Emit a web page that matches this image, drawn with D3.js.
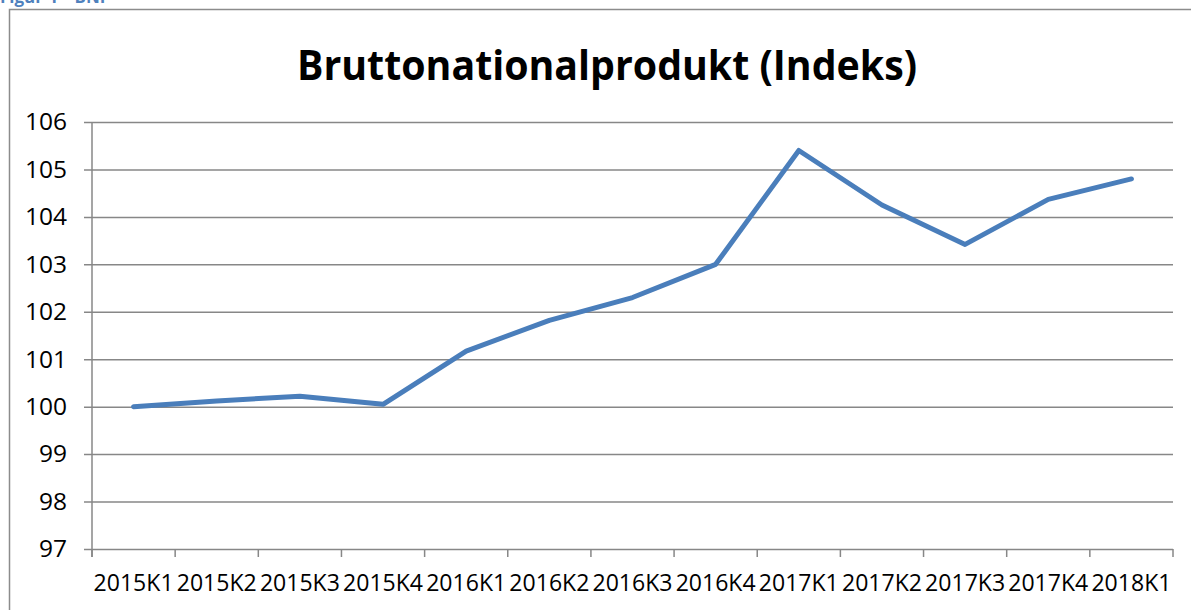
<!DOCTYPE html>
<html>
<head>
<meta charset="utf-8">
<script src="https://cdnjs.cloudflare.com/ajax/libs/d3/7.8.5/d3.min.js"></script>
<style>
  body { margin: 0; background: #fff; }
  svg { display: block; }
</style>
</head>
<body>
<div id="chart"></div>
<script>
let w = 1191,
    h = 610;

let margin = { top: 122, bottom: 61, left: 92, right: 18 };
let width = w - margin.left - margin.right;

let quarters = ["2015K1", "2015K2", "2015K3", "2015K4", "2016K1", "2016K2", "2016K3",
                "2016K4", "2017K1", "2017K2", "2017K3", "2017K4", "2018K1"];
let bnp = [100.0, 100.12, 100.22, 100.05, 101.17, 101.82, 102.3,
           103.0, 105.4, 104.25, 103.42, 104.37, 104.8];
let yTicks = [97, 98, 99, 100, 101, 102, 103, 104, 105, 106];

let svg = d3.select("#chart")
            .append("svg")
            .attr("width", w)
            .attr("height", h);

// caption above the chart, cut by the page edge
svg.append("text")
   .attr("x", 0)
   .attr("y", 3)
   .style("font-family", "Open Sans")
   .style("font-weight", "bold")
   .style("font-size", "17px")
   .style("fill", "#4f81bd")
   .text("Figur 4 – BNP");

// chart frame
svg.append("rect")
   .attr("x", 9.5)
   .attr("y", 9.5)
   .attr("width", w + 20)
   .attr("height", h + 20)
   .style("fill", "none")
   .style("stroke", "#8c8c8c")
   .style("stroke-width", 1.5);

let x = d3.scaleBand()
          .domain(quarters)
          .range([margin.left, w - margin.right]);

let y = d3.scaleLinear()
          .domain([97, 106])
          .range([h - margin.bottom, margin.top]);

// gridlines + y axis
let yAxis = d3.axisLeft(y)
              .tickValues(yTicks)
              .tickSizeOuter(0)
              .tickPadding(19)
              .tickFormat(d3.format("d"));

let gy = svg.append("g")
            .attr("transform", "translate(" + margin.left + ",0)")
            .call(yAxis);

gy.select(".domain").remove();
gy.selectAll(".tick line")
  .attr("x1", -8)
  .attr("x2", width)
  .style("stroke", "#878787")
  .style("stroke-width", 1.5);
gy.selectAll(".tick text")
  .style("font-family", "Open Sans")
  .style("font-size", "24.5px")
  .style("fill", "#000");

// vertical axis line
svg.append("line")
   .attr("x1", margin.left)
   .attr("x2", margin.left)
   .attr("y1", y(106))
   .attr("y2", y(97) + 8)
   .style("stroke", "#878787")
   .style("stroke-width", 1.5);

// x axis with ticks between categories
let gx = svg.append("g")
            .attr("transform", "translate(0," + y(97) + ")");

gx.selectAll(".xtick")
  .data(quarters.concat(["end"]))
  .enter()
  .append("line")
  .attr("class", "xtick")
  .attr("x1", (d, i) => margin.left + i * x.step())
  .attr("x2", (d, i) => margin.left + i * x.step())
  .attr("y1", 0)
  .attr("y2", 8)
  .style("stroke", "#878787")
  .style("stroke-width", 1.5);

gx.selectAll(".xlabel")
  .data(quarters)
  .enter()
  .append("text")
  .attr("class", "xlabel")
  .attr("x", d => x(d) + x.bandwidth() / 2)
  .attr("y", 42)
  .attr("text-anchor", "middle")
  .attr("textLength", 80)
  .attr("lengthAdjust", "spacingAndGlyphs")
  .style("font-family", "Open Sans")
  .style("font-size", "24.5px")
  .style("fill", "#000")
  .text(d => d);

// title
svg.append("text")
   .attr("x", 607)
   .attr("y", 80)
   .attr("text-anchor", "middle")
   .attr("textLength", 620)
   .attr("lengthAdjust", "spacingAndGlyphs")
   .style("font-family", "Open Sans")
   .style("font-weight", "bold")
   .style("font-size", "41px")
   .style("fill", "#000")
   .text("Bruttonationalprodukt (Indeks)");

// the line
let line = d3.line()
             .x((d, i) => x(quarters[i]) + x.bandwidth() / 2)
             .y(d => y(d));

svg.append("path")
   .datum(bnp)
   .attr("d", line)
   .style("fill", "none")
   .style("stroke", "#4a7ebb")
   .style("stroke-width", 5)
   .style("stroke-linejoin", "round")
   .style("stroke-linecap", "round");
</script>
</body>
</html>
